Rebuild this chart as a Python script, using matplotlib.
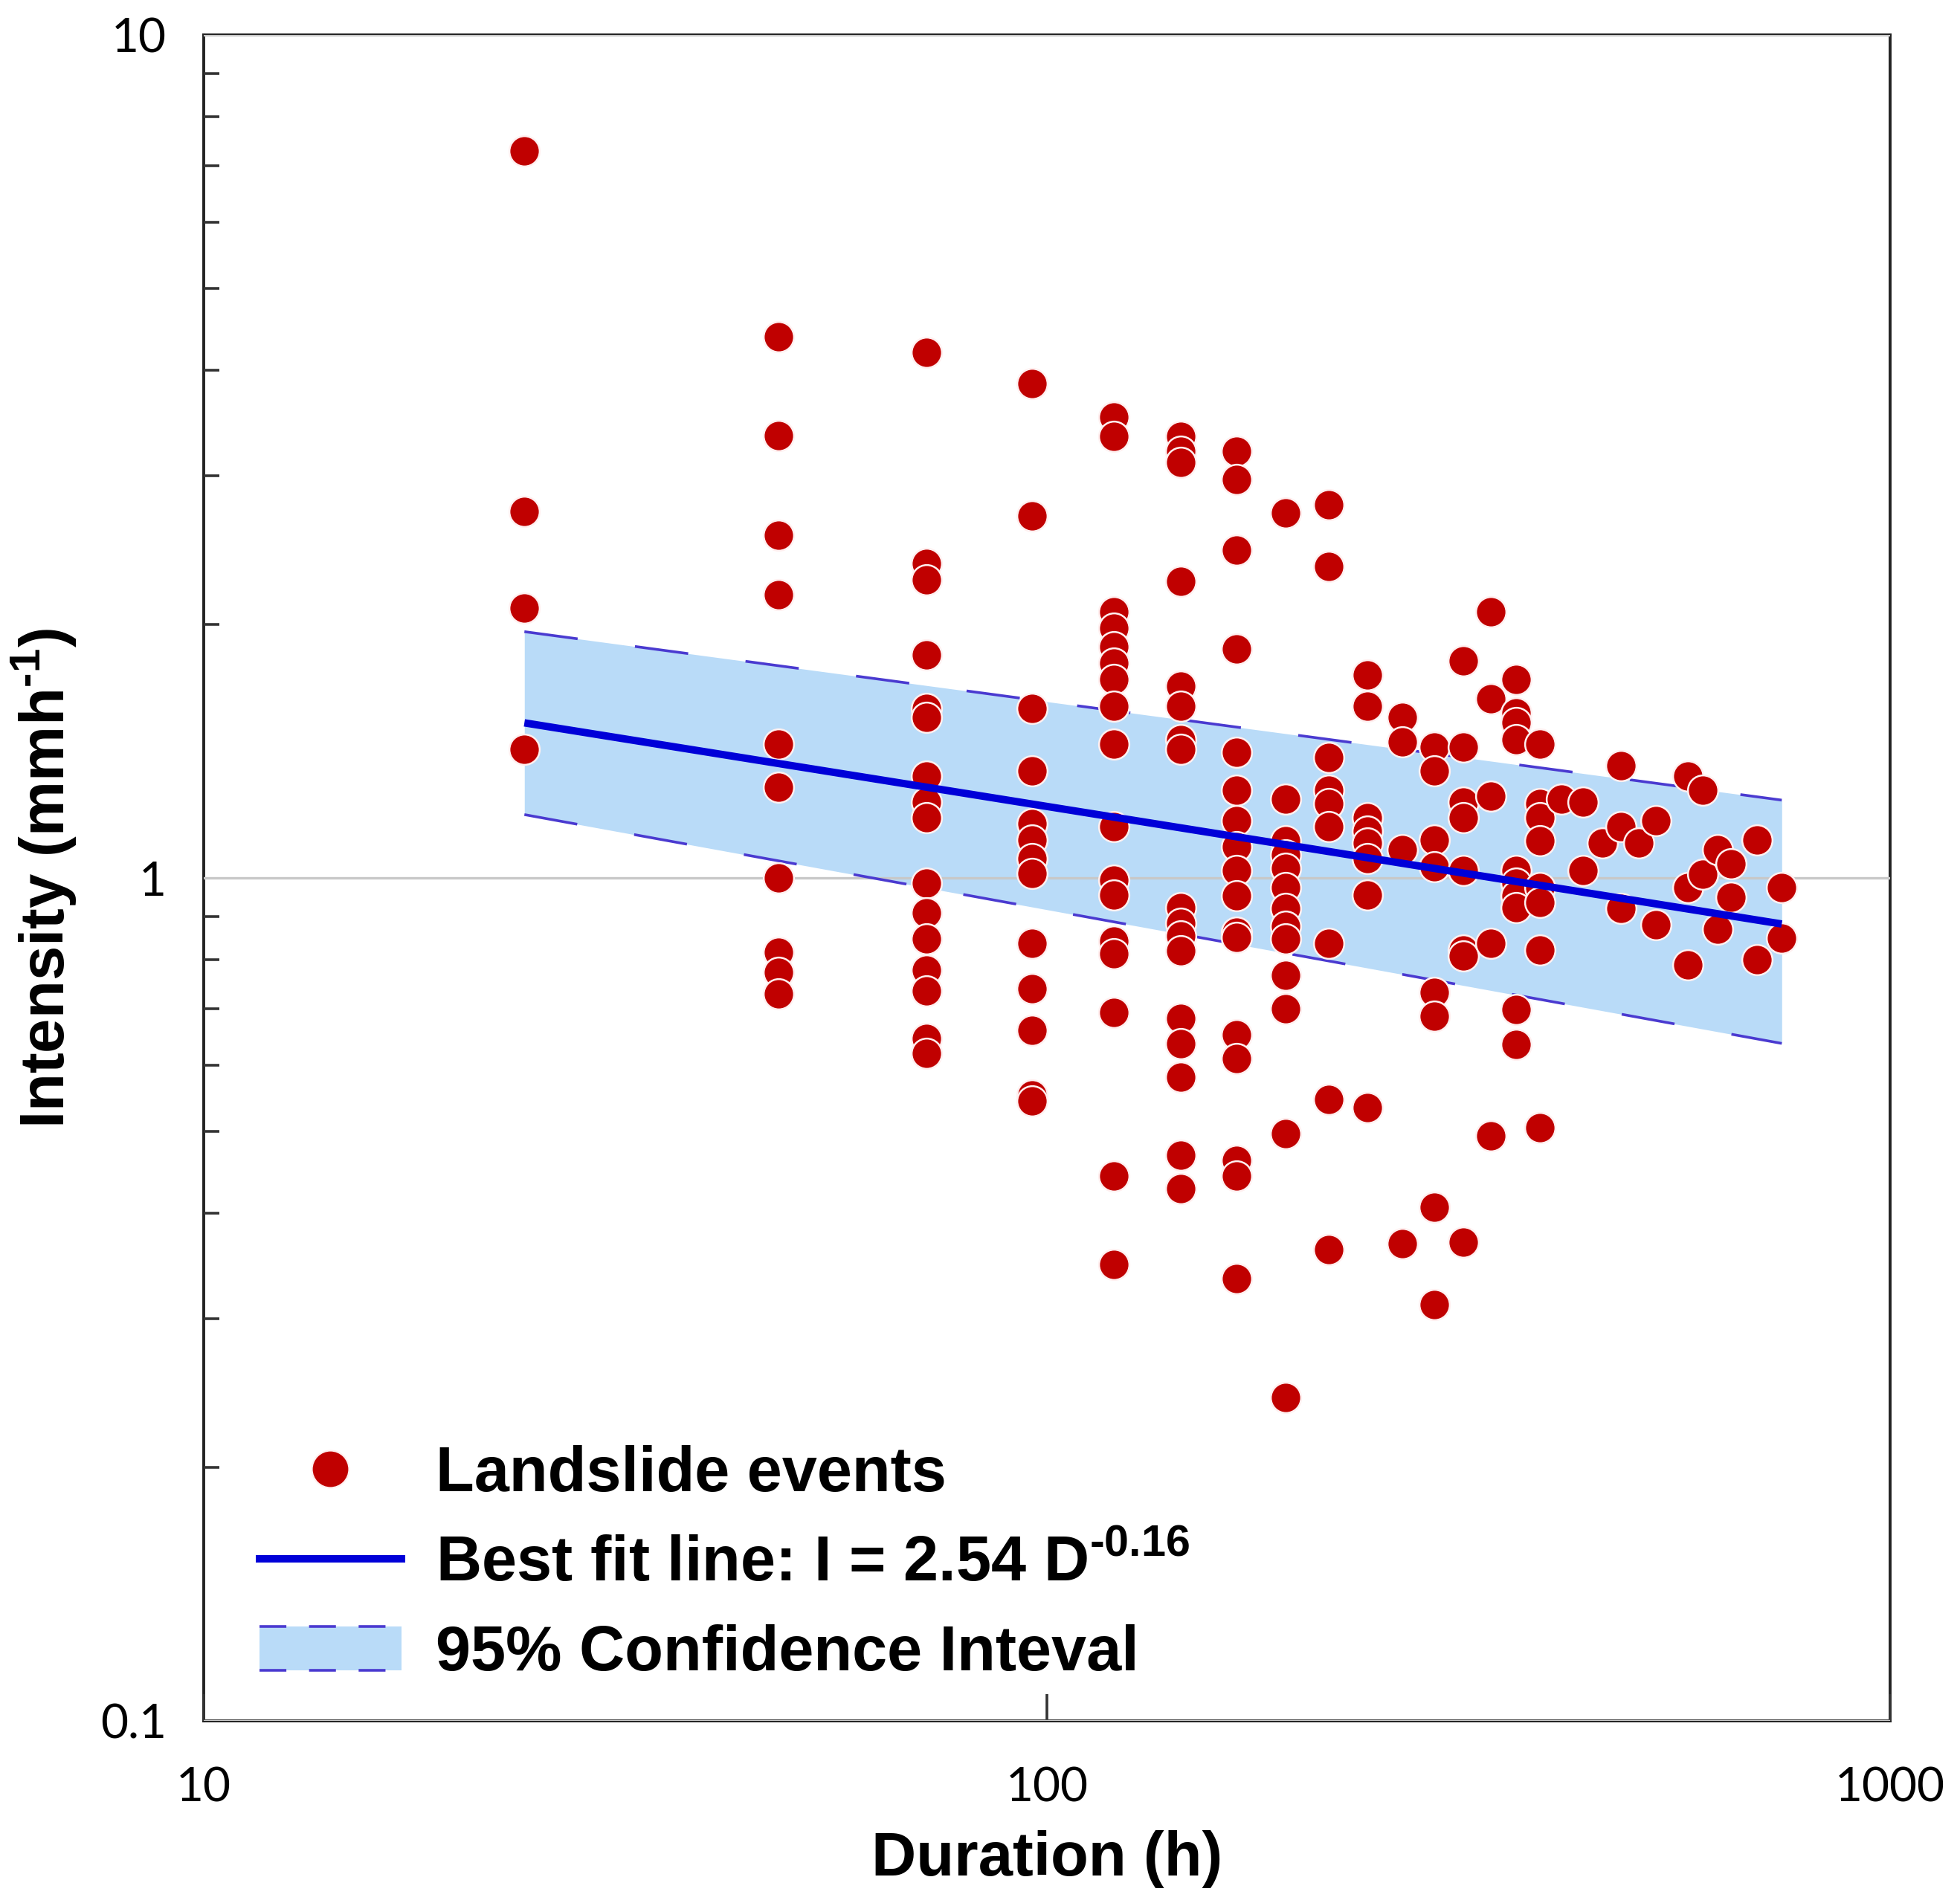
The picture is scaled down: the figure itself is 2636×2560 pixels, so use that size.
import numpy as np
import matplotlib
matplotlib.use("Agg")
import matplotlib.pyplot as plt
from matplotlib.legend_handler import HandlerBase
from matplotlib.patches import Rectangle
from matplotlib.lines import Line2D

# ---------------- data ----------------
durations = [24, 48, 72, 96, 120, 144, 168, 192, 216, 240, 264, 288, 312, 336,
             360, 384, 408, 432, 456, 480, 504, 528, 576, 600, 624, 648, 696, 744]

intensities = [
    [7.28, 2.72, 2.09, 1.42],                                                    # 24
    [4.39, 3.35, 2.55, 2.17, 1.44, 1.28, 1.00, 0.816, 0.773, 0.729],             # 48
    [4.20, 2.36, 2.26, 1.84, 1.59, 1.55, 1.32, 1.23, 1.18, 0.985, 0.91, 0.847,
     0.778, 0.734, 0.645, 0.619],                                                # 72
    [3.86, 2.69, 1.59, 1.34, 1.16, 1.11, 1.054, 1.012, 0.836, 0.739, 0.66,
     0.553, 0.544],                                                              # 96
    [3.52, 3.34, 2.07, 1.98, 1.88, 1.80, 1.72, 1.60, 1.44, 1.15, 0.995, 0.955,
     0.842, 0.813, 0.693, 0.443, 0.348],                                         # 120
    [3.34, 3.21, 3.11, 2.25, 1.69, 1.60, 1.46, 1.42, 0.923, 0.883, 0.853, 0.819,
     0.681, 0.636, 0.58, 0.469, 0.428],                                          # 144
    [3.21, 2.97, 2.45, 1.87, 1.41, 1.27, 1.17, 1.09, 1.02, 0.952, 0.862, 0.85,
     0.652, 0.611, 0.462, 0.443, 0.335],                                         # 168
    [2.71, 1.24, 1.106, 1.065, 1.026, 0.975, 0.92, 0.877, 0.847, 0.767, 0.70,
     0.497, 0.242],                                                              # 192
    [2.77, 2.34, 1.39, 1.27, 1.225, 1.15, 0.836, 0.546, 0.362],                  # 216
    [1.74, 1.60, 1.18, 1.137, 1.10, 1.054, 0.955, 0.534],                        # 240
    [1.55, 1.45, 1.08, 0.368],                                                   # 264
    [1.43, 1.34, 1.11, 1.03, 0.732, 0.686, 0.407, 0.312],                        # 288
    [1.81, 1.43, 1.23, 1.18, 1.02, 0.822, 0.808, 0.37],                          # 312
    [2.07, 1.63, 1.25, 0.836, 0.494],                                            # 336
    [1.72, 1.57, 1.53, 1.46, 1.02, 0.985, 0.952, 0.923, 0.698, 0.634],           # 360
    [1.44, 1.225, 1.18, 1.106, 0.975, 0.936, 0.822, 0.506],                      # 384
    [1.24],                                                                      # 408
    [1.23, 1.02],                                                                # 432
    [1.10],                                                                      # 456
    [1.36, 1.15, 0.92],                                                          # 480
    [1.10],                                                                      # 504
    [1.17, 0.88],                                                                # 528
    [1.32, 0.975, 0.789],                                                        # 576
    [1.27, 1.01],                                                                # 600
    [1.08, 0.869],                                                               # 624
    [1.04, 0.948],                                                               # 648
    [1.11, 0.80],                                                                # 696
    [0.975, 0.849],                                                              # 744
]

# best fit I = a * D^b and 95% confidence limits (power laws)
fit_a, fit_b = 2.54, -0.16
upper_a, upper_b = 3.00, -0.134
lower_a, lower_b = 2.12, -0.182
fit_range = [24, 744]

x_ticks = [10, 100, 1000]
x_ticklabels = ["10", "100", "1000"]
y_ticks = [0.1, 1, 10]
y_ticklabels = ["0.1", "1", "10"]

# ---------------- style ----------------
plt.rcParams['lines.scale_dashes'] = False
plt.rcParams['mathtext.fontset'] = 'custom'
plt.rcParams['mathtext.rm'] = 'Liberation Sans'
plt.rcParams['mathtext.bf'] = 'Liberation Sans:bold'

RED = '#c00000'
BLUE = '#0000d8'
FILL = '#b9dbf8'
DASH = '#4a3ad0'
HY = '\u2010'  # hyphen (keeps a short dash in superscripts)

fig = plt.figure(figsize=(13.18, 12.8), dpi=200)
ax = fig.add_axes([0.104, 0.0957, 0.8603, 0.8859])

xs = np.concatenate([[d] * len(v) for d, v in zip(durations, intensities)])
ys = np.concatenate([np.asarray(v, float) for v in intensities])

dd = np.geomspace(fit_range[0], fit_range[1], 200)
fit = fit_a * dd ** fit_b
up = upper_a * dd ** upper_b
lo = lower_a * dd ** lower_b

ax.fill_between(dd, lo, up, color=FILL, lw=0, zorder=1)
ax.plot(dd, up, color=DASH, lw=1.3, dashes=(26, 28), zorder=2.6)
ax.plot(dd, lo, color=DASH, lw=1.3, dashes=(26, 28), zorder=2.6)
ax.scatter(xs, ys, s=215, color=RED, edgecolors='#fff0f0', linewidths=0.9, zorder=3)
ax.plot(dd, fit, color=BLUE, lw=3.6, zorder=4, solid_capstyle='butt')

ax.set_xscale('log')
ax.set_yscale('log')
ax.set_xlim(10, 1000)
ax.set_ylim(0.1, 10)

ax.set_axisbelow(False)
ax.yaxis.grid(True, which='major', color='#c8c8c8', lw=1.2)
ax.xaxis.grid(False)

ax.set_xticks(x_ticks)
ax.set_xticklabels(x_ticklabels)
ax.set_yticks(y_ticks)
ax.set_yticklabels(y_ticklabels)
ax.xaxis.set_minor_locator(matplotlib.ticker.NullLocator())
ax.yaxis.set_minor_locator(matplotlib.ticker.LogLocator(base=10, subs=np.arange(2, 10)))
ax.yaxis.set_minor_formatter(matplotlib.ticker.NullFormatter())

ax.tick_params(axis='x', which='major', direction='in', length=13, width=1.3,
               color='#333333', pad=22, labelsize=23)
ax.tick_params(axis='y', which='major', direction='in', length=0, pad=18, labelsize=23)
ax.tick_params(axis='y', which='minor', direction='in', length=7.5, width=1.3, color='#333333')
for lab in ax.get_xticklabels() + ax.get_yticklabels():
    lab.set_fontfamily('Lato')

for sp in ax.spines.values():
    sp.set_linewidth(1.4)
    sp.set_color('#222222')

ax.set_xlabel('Duration (h)', fontsize=30, fontweight='bold', family='Liberation Sans', labelpad=10)
ax.set_ylabel('Intensity (mmh$^{\\mathbf{' + HY + '1}}$)', fontsize=30, fontweight='bold',
              family='Liberation Sans')
ax.yaxis.set_label_coords(-0.074, 0.5)


class BandHandler(HandlerBase):
    def create_artists(self, legend, orig_handle, xdescent, ydescent, width, height,
                       fontsize, trans):
        x0, y0 = -xdescent, -ydescent
        r = Rectangle((x0, y0), width, height, facecolor=FILL, edgecolor='none', transform=trans)
        top = Line2D([x0, x0 + width], [y0 + height] * 2, color=DASH, lw=1.3,
                     dashes=(13, 11), transform=trans)
        bot = Line2D([x0, x0 + width], [y0] * 2, color=DASH, lw=1.3,
                     dashes=(13, 11), transform=trans)
        return [r, top, bot]


band_handle = Rectangle((0, 0), 1, 1)
pt_handle = Line2D([], [], ls='none', marker='o', markersize=18, color=RED,
                   markeredgecolor='#fff0f0', markeredgewidth=0.8)
fit_handle = Line2D([], [], color=BLUE, lw=3.6)

leg = ax.legend([pt_handle, fit_handle, band_handle],
                ['Landslide events',
                 'Best fit line: I = 2.54 D$^{\\mathbf{' + HY + '0.16}}$',
                 '95% Confidence Inteval'],
                handler_map={Rectangle: BandHandler()},
                loc='lower left', bbox_to_anchor=(0.033, 0.022), frameon=False,
                prop={'family': 'Liberation Sans', 'weight': 'bold', 'size': 30.5},
                handlelength=2.25, handleheight=0.7, handletextpad=0.55,
                labelspacing=0.48, borderpad=0, borderaxespad=0)

fig.savefig('out.png', dpi=200)
